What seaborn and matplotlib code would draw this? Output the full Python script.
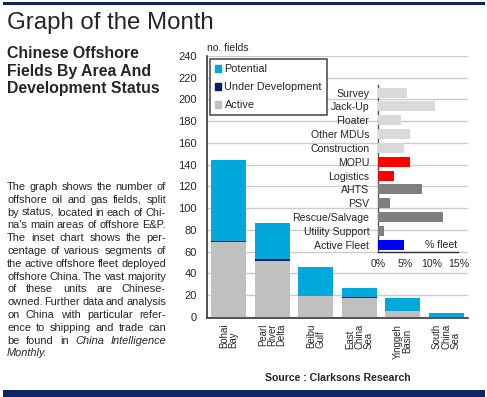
import matplotlib
matplotlib.use('Agg')
import matplotlib.pyplot as plt
import seaborn as sns
import numpy as np
from matplotlib.patches import Rectangle, Patch

# datos del grafico principal
areas = ['Bohai\nBay', 'Pearl\nRiver\nDelta', 'Beibu\nGulf', 'East\nChina\nSea', 'Yinggeh\nBasin', 'South\nChina\nSea']
active = [69, 51, 19, 17, 5, 0]
under_dev = [1, 2, 0, 1, 0, 0]
potential = [74, 33, 27, 8, 12, 3]

# datos del inset (% fleet)
segments = ['Survey', 'Jack-Up', 'Floater', 'Other MDUs', 'Construction', 'MOPU', 'Logistics',
            'AHTS', 'PSV', 'Rescue/Salvage', 'Utility Support', 'Active Fleet']
fleet_pct = [5.4, 10.7, 4.3, 5.9, 4.8, 6.0, 2.9, 8.2, 2.2, 12.2, 1.1, 4.8]
pct_ticks = [0, 5, 10, 15]
pct_labels = ['0%', '5%', '10%', '15%']

body_lines = [
    "The graph shows the number of",
    "offshore oil and gas fields, split",
    "by status, located in each of Chi-",
    "na's main areas of offshore E&P.",
    "The inset chart shows the per-",
    "centage of various segments of",
    "the active offshore fleet deployed",
    "offshore China. The vast majority",
    "of these units are Chinese-",
    "owned. Further data and analysis",
    "on China with particular refer-",
    "ence to shipping and trade can",
    "be found in *China *Intelligence",
    "*Monthly.",
]

c_pot = '#00a8dc'
c_ud = '#0d1f5c'
c_act = '#c0c0c0'
seg_colors = ['#d9d9d9'] * 5 + ['#ff0000'] * 2 + ['#7f7f7f'] * 4 + ['#0000ff']
navy = '#0b2566'

sns.set_style('white')
plt.rcParams['font.family'] = ['Liberation Sans', 'DejaVu Sans']

W, H = 487, 397
fig = plt.figure(figsize=(W / 100, H / 100), dpi=100)

def fx(px):
    return px / W

def fy(py):
    return 1 - py / H

# barras decorativas
fig.add_artist(Rectangle((fx(3), fy(5)), fx(482), 3.3 / H, transform=fig.transFigure, color=navy, lw=0))
fig.add_artist(Rectangle((fx(3), 0), fx(482), 7 / H, transform=fig.transFigure, color=navy, lw=0))

fig.text(fx(7), fy(29.5), 'Graph of the Month', fontsize=17.3, va='baseline', ha='left')
fig.text(fx(7), fy(46), 'Chinese Offshore\nFields By Area And\nDevelopment Status',
         fontsize=11.4, fontweight='bold', va='top', ha='left', linespacing=1.22)

# Grafico principal
ax = fig.add_axes([fx(207), 1 - 316.7 / H, fx(261), 260.7 / H])
total = np.array(active) + np.array(under_dev) + np.array(potential)
act_ud = np.array(active) + np.array(under_dev)
bar_kw = dict(saturation=1, width=0.8, ax=ax, zorder=2, linewidth=0)
sns.barplot(x=areas, y=total, color=c_pot, **bar_kw)
sns.barplot(x=areas, y=act_ud, color=c_ud, **bar_kw)
sns.barplot(x=areas, y=active, color=c_act, **bar_kw)
ax.set_ylim(0, 240)
ax.set_xlim(-0.5, 5.5)
ax.set_yticks(range(0, 241, 20))
ax.yaxis.grid(True, color='#cccccc', lw=1)
ax.set_axisbelow(True)
ax.tick_params(axis='both', length=0, labelsize=8)
ax.tick_params(axis='y', pad=7.5)
ax.tick_params(axis='x', pad=4.5)
for sp in ['top', 'right']:
    ax.spines[sp].set_visible(False)
for sp in ['left', 'bottom']:
    ax.spines[sp].set_color('#222222')
    ax.spines[sp].set_linewidth(1.1)
ax.spines['bottom'].set_position(('outward', 0.6))
for lab in ax.get_xticklabels():
    lab.set_rotation(90)
    lab.set_fontsize(6.9)
    lab.set_linespacing(0.92)
    lab.set_multialignment('center' if lab.get_text().startswith('Yinggeh') else 'left')
ax.set_xlabel('')
ax.annotate('no. fields', xy=(0, 1), xycoords='axes fraction', xytext=(0, 2.5),
            textcoords='offset points', ha='left', va='bottom', fontsize=7.5)

handles = [Patch(color=c_pot, label='Potential'), Patch(color=c_ud, label='Under Development'),
           Patch(color=c_act, label='Active')]
leg = ax.legend(handles=handles, loc='upper left', bbox_to_anchor=(0.011, 0.988), borderaxespad=0,
                fontsize=7.8, frameon=True, fancybox=False, framealpha=1, edgecolor='#444444',
                handlelength=0.6, handleheight=0.6, handletextpad=0.3, labelspacing=0.74,
                borderpad=0.45)
leg.get_frame().set_linewidth(1.1)
leg.set_zorder(5)

ax.text(0.5, -0.235, 'Source : Clarksons Research', transform=ax.transAxes,
        ha='center', va='center', fontsize=7.6, fontweight='bold')

# Inset
ax_in = fig.add_axes([fx(378.3), 1 - 252.3 / H, fx(80), (252.3 - 85) / H])
ax_in.patch.set_alpha(0)
sns.barplot(x=fleet_pct, y=segments, hue=segments, palette=seg_colors, legend=False,
            saturation=1, width=0.72, ax=ax_in, orient='h', zorder=3, linewidth=0)
ax_in.set_xlim(0, 15)
ax_in.set_ylim(11.55, -0.55)
ax_in.set_xticks(pct_ticks)
ax_in.set_xticklabels(pct_labels)
ax_in.tick_params(axis='both', length=0, labelsize=7.6)
ax_in.tick_params(axis='y', pad=6.5)
ax_in.tick_params(axis='x', pad=5)
ax_in.set_xlabel('')
ax_in.set_ylabel('')
for sp in ['top', 'right']:
    ax_in.spines[sp].set_visible(False)
ax_in.spines['left'].set_color('#555555')
ax_in.spines['bottom'].set_color('#333333')
ax_in.spines['left'].set_linewidth(1)
ax_in.spines['bottom'].set_linewidth(1)
ax_in.text(11.7, 11, '% fleet', ha='center', va='center', fontsize=7.6)

# Texto justificado
renderer = fig.canvas.get_renderer()
x_left, x_right = 7, 166
y_first = 190
dy = 12.8
for i, line in enumerate(body_lines):
    words = line.split(' ')
    arts = []
    for w in words:
        style = 'normal'
        if w.startswith('*'):
            style = 'italic'
            w = w[1:]
        t = fig.text(0, fy(y_first + i * dy), w, fontsize=7.9, style=style, ha='left', va='baseline')
        arts.append(t)
    widths = [a.get_window_extent(renderer).width for a in arts]
    last = i == len(body_lines) - 1
    if last or len(arts) == 1:
        gap = 2.2
    else:
        gap = (x_right - x_left - sum(widths)) / (len(arts) - 1)
    x = x_left
    for a, wd in zip(arts, widths):
        a.set_x(fx(x))
        x += wd + gap

fig.savefig('out.png', dpi=100)
